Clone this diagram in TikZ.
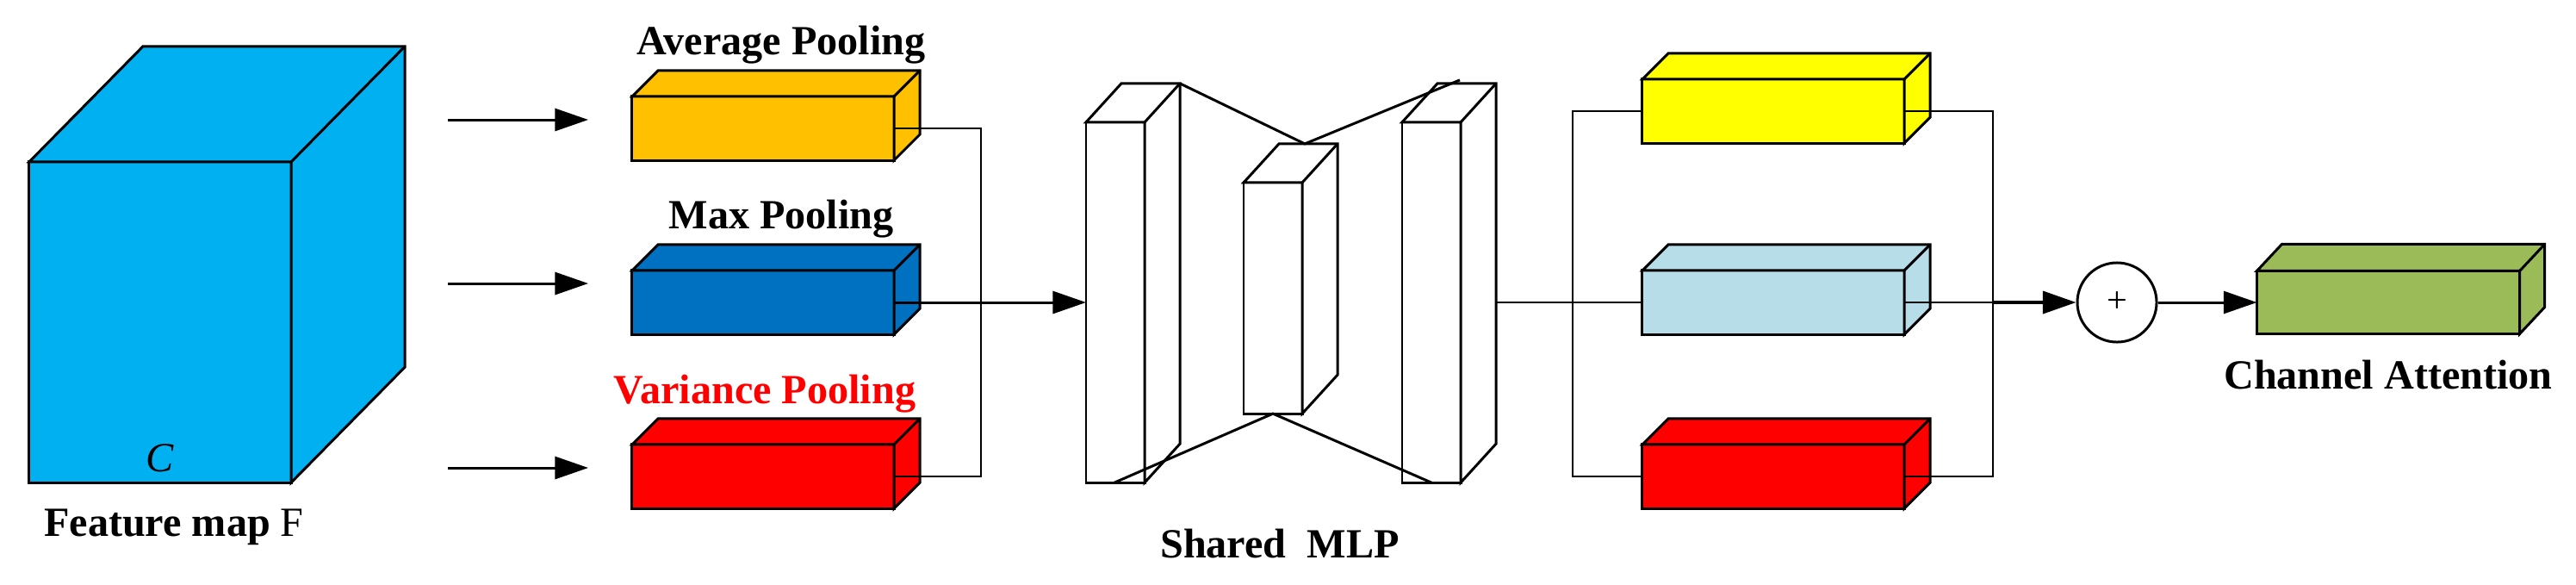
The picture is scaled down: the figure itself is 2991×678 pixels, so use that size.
\documentclass[tikz,border=0pt]{standalone}
\usepackage{fontspec}
\setmainfont{Liberation Serif}
\usetikzlibrary{arrows.meta,calc}
\definecolor{cubeblue}{RGB}{0,176,240}
\definecolor{avgc}{RGB}{255,192,0}
\definecolor{maxc}{RGB}{0,112,192}
\definecolor{varc}{RGB}{255,0,0}
\definecolor{yelc}{RGB}{255,255,0}
\definecolor{ltblue}{RGB}{183,221,232}
\definecolor{greenc}{RGB}{155,187,89}
% top and side faces of a cuboid whose front face is node #1
\newcommand\depthfaces[4]{%
  \filldraw[face, fill=#4] (#1.north west) -- ($(#1.north west)+(#2,#3)$)
     -- ($(#1.north east)+(#2,#3)$) -- ($(#1.south east)+(#2,#3)$)
     -- (#1.south east) -- (#1.north east) -- cycle;
  \draw[face] (#1.north east) -- ($(#1.north east)+(#2,#3)$);
}
\begin{document}
\begin{tikzpicture}[x=0.01cm,y=-0.01cm,
  face/.style={draw=black, line width=0.85pt},
  front/.style={face, rectangle, outer sep=0pt, inner sep=0pt},
  wire/.style={draw=black, line width=0.6pt},
  arr/.style={draw=black, line width=0.85pt, -{Triangle[length=11pt,width=7.4pt]}},
  lbl/.style={font=\fontsize{13.7pt}{16pt}\selectfont\bfseries, anchor=base, inner sep=0pt},
]
\useasboundingbox (0,0) rectangle (2991,678);

% feature map cube
\node[front, fill=cubeblue, minimum width=3.04cm, minimum height=3.72cm] (cube) at (186,374) {};
\depthfaces{cube}{132}{-134}{cubeblue}
\node[lbl, font=\fontsize{13.7pt}{16pt}\selectfont\itshape] (lc) at (186,547) {C};
\node[lbl] (lfeat) at (202,622) {Feature map \mdseries F};

% input arrows
\coordinate (s1) at (520,139); \coordinate (e1) at (683,139);
\coordinate (s2) at (520,329); \coordinate (e2) at (683,329);
\coordinate (s3) at (520,543); \coordinate (e3) at (683,543);
\draw[arr] (s1) -- (e1);
\draw[arr] (s2) -- (e2);
\draw[arr] (s3) -- (e3);

% pooling boxes
\node[front, fill=avgc, minimum width=3.04cm, minimum height=0.74cm] (avg) at (886,149) {};
\depthfaces{avg}{30}{-30}{avgc}
\node[front, fill=maxc, minimum width=3.04cm, minimum height=0.74cm] (max) at (886,351) {};
\depthfaces{max}{30}{-30}{maxc}
\node[front, fill=varc, minimum width=3.04cm, minimum height=0.74cm] (var) at (886,553) {};
\depthfaces{var}{30}{-30}{varc}
\node[lbl] (lavg) at (907,63) {Average Pooling};
\node[lbl] (lmax) at (907,265) {Max Pooling};
\node[lbl, text=varc] (lvar) at (888,468) {Variance Pooling};

% shared MLP
\node[front, fill=white, minimum width=0.68cm, minimum height=4.18cm] (mlpa) at (1295,351) {};
\depthfaces{mlpa}{41}{-45}{white}
\node[front, fill=white, minimum width=0.68cm, minimum height=2.68cm] (mlpb) at (1478,346) {};
\depthfaces{mlpb}{41}{-45}{white}
\node[front, fill=white, minimum width=0.68cm, minimum height=4.18cm] (mlpc) at (1662,351) {};
\depthfaces{mlpc}{41}{-45}{white}
\coordinate (mT) at ($(mlpb.north west)+(71,-45)$);
\coordinate (rT) at ($(mlpc.north west)+(67,-49)$);
\draw[face] ($(mlpa.north east)+(41,-45)$) -- (mT) -- (rT);
\draw[face] ($(mlpa.south west)+(33,0)$) -- (mlpb.south) -- (mlpc.south);
\node[lbl] (lmlp) at (1486,647) {Shared\ \ MLP};

% pooling -> MLP
\coordinate (busA) at (1139,351);
\draw[wire] (avg.east) -| (busA) |- (var.east);
\draw[arr] (max.east) -- (mlpa.west);

% right boxes
\node[front, fill=yelc, minimum width=3.04cm, minimum height=0.74cm] (ya) at (2059,129) {};
\depthfaces{ya}{30}{-30}{yelc}
\node[front, fill=ltblue, minimum width=3.04cm, minimum height=0.74cm] (yb) at (2059,351) {};
\depthfaces{yb}{30}{-30}{ltblue}
\node[front, fill=varc, minimum width=3.04cm, minimum height=0.74cm] (yc) at (2059,553) {};
\depthfaces{yc}{30}{-30}{varc}

\coordinate (busB) at (1826,351);
\draw[wire] ($(mlpc.east)+(41,0)$) -- (yb.west);
\draw[wire] (ya.west) -| (busB) |- (yc.west);
\coordinate (busC) at (2314,351);
\draw[wire] (ya.east) -| (busC) |- (yc.east);
\draw[wire] (yb.east) -- (busC);

% sum and output
\node[circle, draw, line width=0.85pt, minimum size=0.92cm, inner sep=0pt, font=\fontsize{12pt}{12pt}\selectfont] (plus) at (2458,351) {+};
\draw[arr, line width=1.1pt] (busC) -- (plus.west);
\node[front, fill=greenc, minimum width=3.05cm, minimum height=0.73cm] (att) at (2773,351) {};
\depthfaces{att}{29}{-31}{greenc}
\draw[arr] (plus.east) -- (att.west);
\node[lbl] (latt) at (2773,451) {Channel Attention};
\end{tikzpicture}
\end{document}
